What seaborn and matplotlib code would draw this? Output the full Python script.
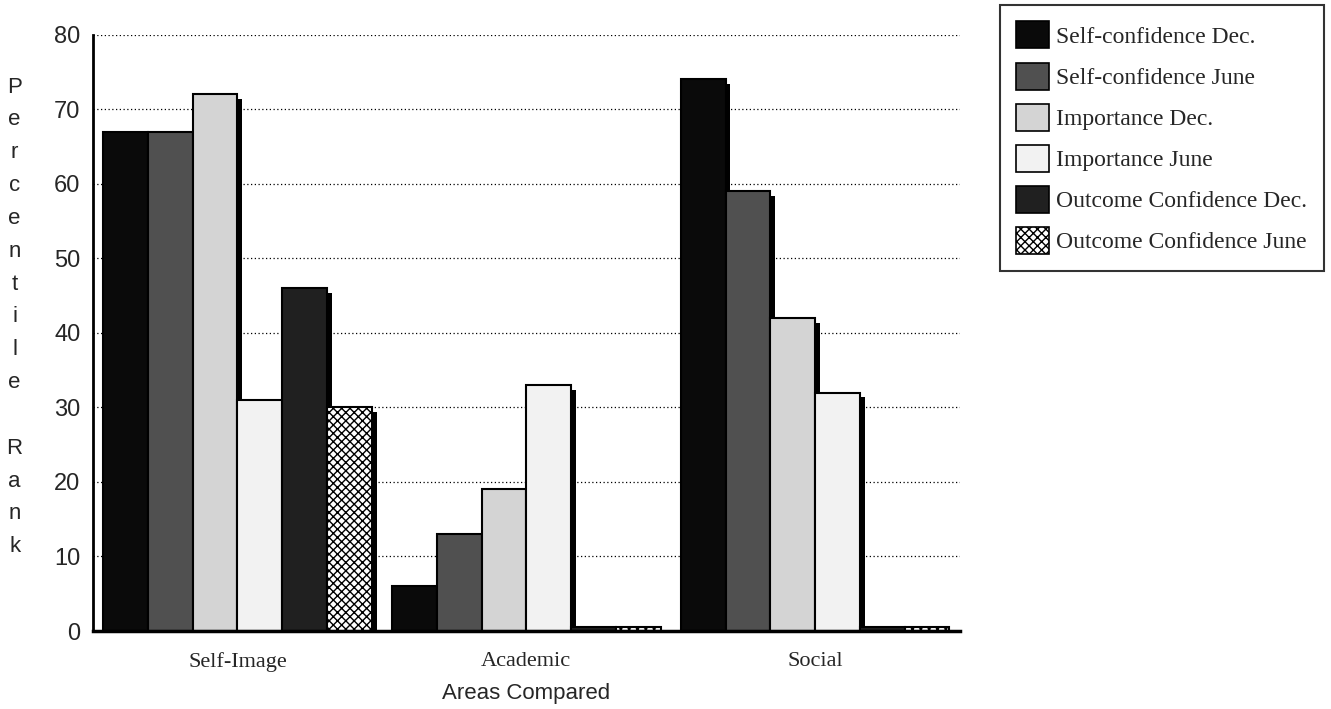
import pandas as pd
import seaborn as sns
import matplotlib.pyplot as plt
import matplotlib.patheffects as pe
from matplotlib.patches import Patch

# data
areas = ["Self-Image", "Academic", "Social"]
series = ["Self-confidence Dec.", "Self-confidence June", "Importance Dec.",
          "Importance June", "Outcome Confidence Dec.", "Outcome Confidence June"]
self_conf_dec = [67, 6, 74]
self_conf_june = [67, 13, 59]
importance_dec = [72, 19, 42]
importance_june = [31, 33, 32]
outcome_dec = [46, 0.5, 0.5]
outcome_june = [30, 0.5, 0.5]
yticks = [0, 10, 20, 30, 40, 50, 60, 70, 80]

values = [self_conf_dec, self_conf_june, importance_dec,
          importance_june, outcome_dec, outcome_june]
rows = []
for s, vals in zip(series, values):
    for a, v in zip(areas, vals):
        rows.append({"area": a, "series": s, "rank": v})
df = pd.DataFrame(rows)

fills = ["#0a0a0a", "#505050", "#d4d4d4", "#f2f2f2", "#202020", "#ffffff"]
palette = dict(zip(series, fills))

sns.set_style("white")
plt.rcParams["font.family"] = ["Liberation Sans", "DejaVu Sans"]

fig = plt.figure(figsize=(13.31, 7.09), dpi=100)
ax = fig.add_axes([0.0699, 0.110, 0.651, 0.841])

sns.barplot(data=df, x="area", y="rank", hue="series", order=areas,
            hue_order=series, palette=palette, saturation=1, width=0.93,
            edgecolor="black", linewidth=1.5, legend=False, ax=ax)

shadow = [pe.SimplePatchShadow(offset=(3.5, -3.5), shadow_rgbFace="black", alpha=1.0),
          pe.Normal()]
for i, cont in enumerate(ax.containers):
    for bar in cont:
        bar.set_path_effects(shadow)
        if i == 5:
            bar.set_hatch("xxxx")

ax.set_ylim(0, 80)
ax.set_xlim(-0.5, 2.5)
ax.set_yticks(yticks)
ax.yaxis.grid(True, linestyle=(0, (1, 2)), color="black", linewidth=0.9)
ax.xaxis.grid(False)
ax.set_axisbelow(True)

for side in ["top", "right"]:
    ax.spines[side].set_visible(False)
ax.spines["left"].set_linewidth(2)
ax.spines["bottom"].set_linewidth(2.5)
ax.spines["left"].set_color("black")
ax.spines["bottom"].set_color("black")

ax.tick_params(axis="y", direction="out", length=6, width=1, labelsize=17, pad=3)
ax.set_xticks([0.5, 1.5], minor=True)
ax.tick_params(axis="x", which="major", length=0, labelsize=16, pad=15)
ax.tick_params(axis="x", which="minor", direction="out", length=9, width=2)
for lbl in ax.get_xticklabels():
    lbl.set_fontfamily(["Liberation Serif", "DejaVu Serif"])

ax.set_xlabel("Areas Compared", fontsize=16, labelpad=8)
ax.set_ylabel("")

fig.text(0.011, 0.553, "\n".join("Percentile") + "\n\n" + "\n".join("Rank"),
         ha="center", va="center", fontsize=16, linespacing=1.74)

handles = [Patch(facecolor=palette[s], edgecolor="black", linewidth=1.2,
                 hatch="xxxx" if s == series[5] else None) for s in series]
leg = fig.legend(handles, series, loc="upper left", bbox_to_anchor=(0.751, 0.993),
                 frameon=True, fancybox=False, edgecolor="black",
                 prop={"family": ["Liberation Serif", "DejaVu Serif"], "size": 17},
                 handlelength=1.38, handleheight=1.38, labelspacing=0.6,
                 borderpad=0.7, handletextpad=0.33, borderaxespad=0)
leg.get_frame().set_linewidth(1.5)

fig.savefig("out.png", dpi=100)
